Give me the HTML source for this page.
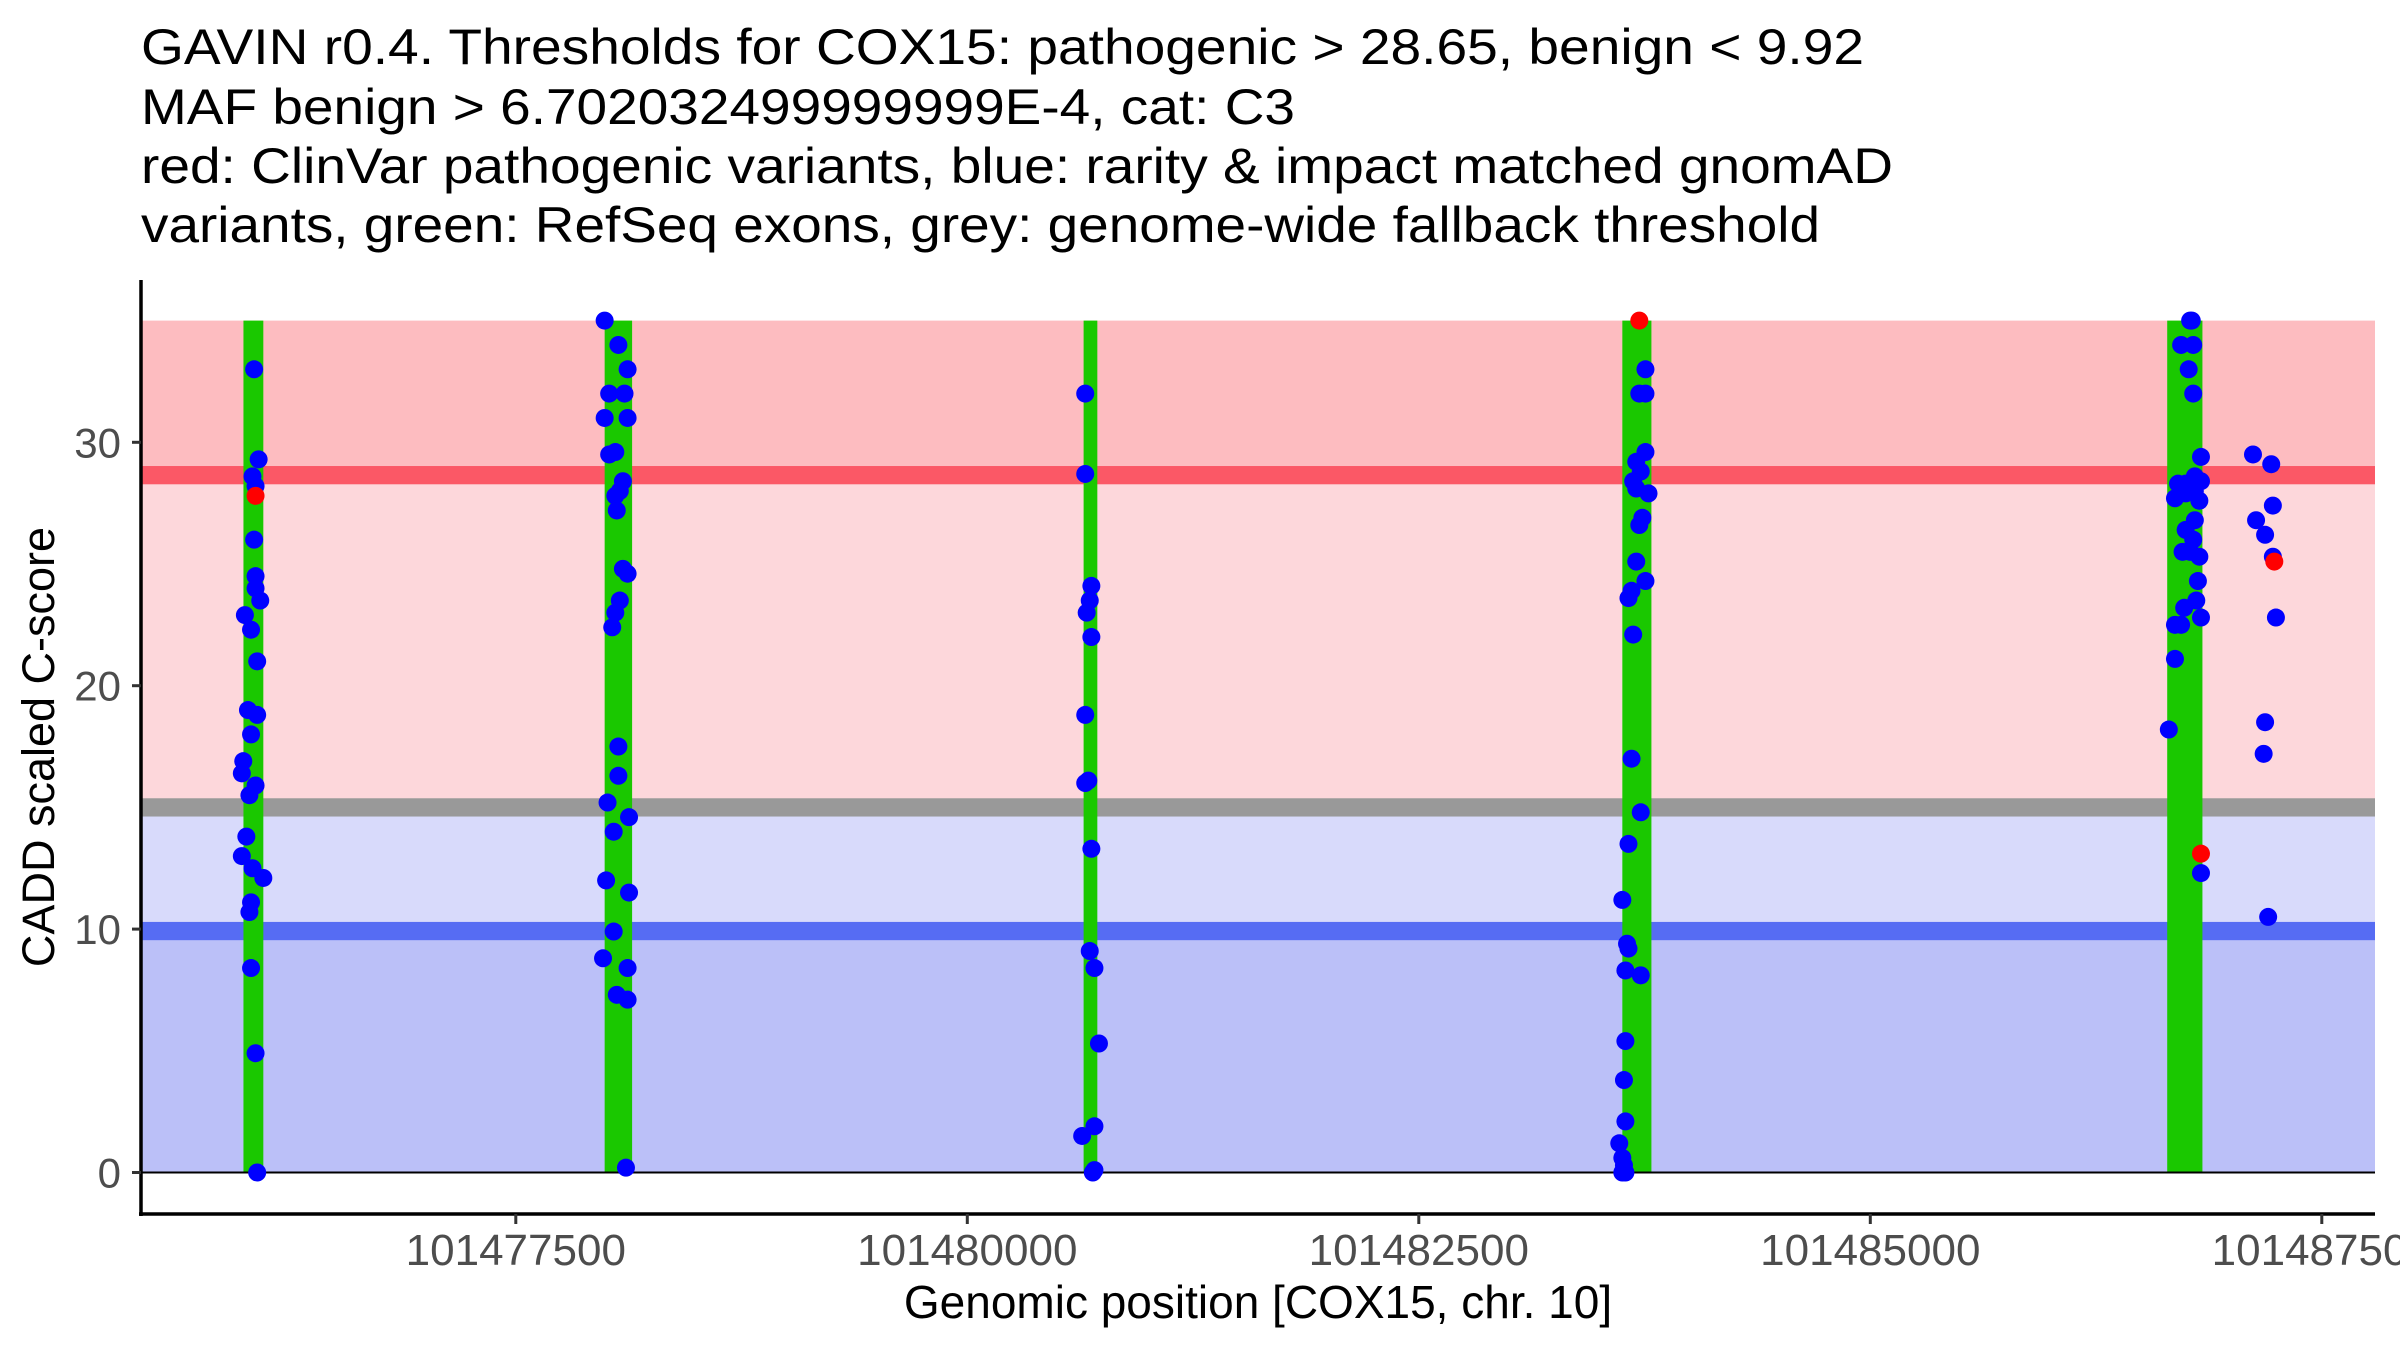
<!DOCTYPE html>
<html><head><meta charset="utf-8"><style>
html,body{margin:0;padding:0;background:#fff;}
svg{display:block;font-family:"Liberation Sans",Arial,sans-serif;}
</style></head><body>
<svg id="chart" width="2400" height="1350" viewBox="0 0 2400 1350" xmlns="http://www.w3.org/2000/svg">
<g font-size="50" fill="#000">
<text x="141" y="64" textLength="1723" lengthAdjust="spacingAndGlyphs">GAVIN r0.4. Thresholds for COX15: pathogenic &gt; 28.65, benign &lt; 9.92</text>
<text x="141" y="124" textLength="1154" lengthAdjust="spacingAndGlyphs">MAF benign &gt; 6.702032499999999E-4, cat: C3</text>
<text x="141" y="183" textLength="1752" lengthAdjust="spacingAndGlyphs">red: ClinVar pathogenic variants, blue: rarity &amp; impact matched gnomAD</text>
<text x="141" y="242" textLength="1679" lengthAdjust="spacingAndGlyphs">variants, green: RefSeq exons, grey: genome-wide fallback threshold</text>
</g>
<g id="bands"></g>
<g id="exons"></g>
<g id="points"></g>
<g id="axes"></g>
<text x="1258" y="1318" font-size="46" text-anchor="middle">Genomic position [COX15, chr. 10]</text>
<text transform="translate(54,747) rotate(-90)" font-size="45" text-anchor="middle">CADD scaled C-score</text>
</svg>
<script>
const yTicks = [0, 10, 20, 30];
const xTicks = [101477500, 101480000, 101482500, 101485000, 101487500];
const pathogenicThreshold = 28.65;
const benignThreshold = 9.92;
const fallbackThreshold = 15.0;
const yMax = 35;
const exonStarts = [101475992, 101477992, 101480644, 101483627, 101486644];
const exonEnds   = [101476102, 101478144, 101480720, 101483788, 101486839];
const bluePos = [
101476051,101476076,101476042,101476059,101476051,101476059,101476059,101476085,101476000,101476034,101476068,101476017,101476068,101476034,101476059,101475991,101475983,101476025,101476008,101475983,101476042,101476102,101476034,101476025,101476034,101476059,101476068,
101477992,101478068,101478119,101478017,101478102,101477992,101478119,101478017,101478051,101478093,101478076,101478051,101478059,101478093,101478119,101478076,101478051,101478034,101478068,101478068,101478008,101478127,101478042,101478000,101478127,101478042,101477983,101478119,101478059,101478119,101478110,
101480653,101480653,101480687,101480678,101480661,101480687,101480653,101480653,101480670,101480687,101480678,101480704,101480729,101480636,101480704,101480704,101480695,
101483755,101483721,101483755,101483755,101483704,101483729,101483687,101483704,101483772,101483738,101483721,101483704,101483755,101483678,101483661,101483687,101483678,101483729,101483661,101483627,101483653,101483661,101483729,101483644,101483644,101483636,101483644,101483610,101483627,101483636,101483644,101483627,
101486771,101486780,101486721,101486788,101486763,101486788,101486831,101486797,101486831,101486704,101486746,101486746,101486687,101486797,101486822,101486746,101486797,101486788,101486729,101486822,101486771,101486814,101486805,101486738,101486687,101486721,101486831,101486687,101486653,101486831,
101487119,101487220,101487229,101487136,101487186,101487229,101487246,101487186,101487178,101487203];
const blueScore = [
33,29.3,28.6,28.2,26,24.5,24,23.5,22.9,22.3,21,19,18.8,18,15.9,16.9,16.4,15.5,13.8,13,12.5,12.1,11.1,10.7,8.4,4.9,0,
35,34,33,32,32,31,31,29.5,29.6,28.4,28,27.8,27.2,24.8,24.6,23.5,23,22.4,17.5,16.3,15.2,14.6,14,12,11.5,9.9,8.8,8.4,7.3,7.1,0.2,
32,28.7,24.1,23.5,23,22,18.8,16,16.1,13.3,9.1,8.4,5.3,1.5,1.9,0.1,0,
33,32,32,29.6,29.2,28.8,28.4,28.1,27.9,26.9,26.6,25.1,24.3,23.9,23.6,22.1,17,14.8,13.5,11.2,9.4,9.2,8.1,8.3,5.4,3.8,2.1,1.2,0.6,0.3,0,0,
35,35,34,34,33,32,29.4,28.6,28.4,28.3,28.3,27.9,27.7,28,27.6,26.4,26.8,26,25.5,25.3,25.5,24.3,23.5,23.2,22.5,22.5,22.8,21.1,18.2,12.3,
29.5,29.1,27.4,26.8,26.2,25.3,22.8,18.5,17.2,10.5];
const redPos = [101476059, 101483721, 101486831, 101487237];
const redScore = [27.8, 35, 13.1, 25.1];

const NS = 'http://www.w3.org/2000/svg';
const PL = 141, PR = 2375, PB = 1214, PT = 280;
function xs(v){ return 515.8 + (v - 101477500) * (451.5 / 2500); }
function ys(v){ return 1172.5 - v * 24.34; }
function mk(tag, attrs, parent){
  const e = document.createElementNS(NS, tag);
  for (const k in attrs) e.setAttribute(k, attrs[k]);
  document.getElementById(parent).appendChild(e);
  return e;
}
function rect(parent, x, y, w, h, fill, name){
  const r = mk('rect', {x:x, y:y, width:w, height:h, fill:fill}, parent);
  
  
  return r;
}
const lw = 0.75;
rect('bands', PL, ys(yMax), PR-PL, ys(pathogenicThreshold)-ys(yMax), '#fdbcc0', 'pathogenic-band');
rect('bands', PL, ys(pathogenicThreshold), PR-PL, ys(fallbackThreshold)-ys(pathogenicThreshold), '#fdd7db', 'uncertain-high-band');
rect('bands', PL, ys(fallbackThreshold), PR-PL, ys(benignThreshold)-ys(fallbackThreshold), '#d8dafb', 'uncertain-low-band');
rect('bands', PL, ys(benignThreshold), PR-PL, ys(0)-ys(benignThreshold), '#bbc0f8', 'benign-band');
rect('bands', PL, ys(pathogenicThreshold+lw/2), PR-PL, lw*24.34, '#fb5866', 'pathogenic-threshold-line');
rect('bands', PL, ys(fallbackThreshold+lw/2), PR-PL, lw*24.34, '#999999', 'fallback-threshold-line');
rect('bands', PL, ys(benignThreshold+lw/2), PR-PL, lw*24.34, '#566cf3', 'benign-threshold-line');
for (let i = 0; i < exonStarts.length; i++) {
  rect('exons', xs(exonStarts[i]), ys(yMax), xs(exonEnds[i]) - xs(exonStarts[i]), ys(0)-ys(yMax), '#1ac800', 'exon-' + (i+1));
}
const zl = mk('line', {x1:PL, x2:PR, y1:ys(0), y2:ys(0), stroke:'#000', 'stroke-width':2}, 'exons');


for (let i = 0; i < bluePos.length; i++) {
  const c = mk('circle', {cx:xs(bluePos[i]), cy:ys(blueScore[i]), r:9, fill:'#0000ff'}, 'points');
  
  
}
for (let i = 0; i < redPos.length; i++) {
  const c = mk('circle', {cx:xs(redPos[i]), cy:ys(redScore[i]), r:9, fill:'#ff0000'}, 'points');
  
  
}
const ya = mk('line', {x1:PL, x2:PL, y1:PT, y2:PB+2, stroke:'#000', 'stroke-width':3.5}, 'axes');


const xa = mk('line', {x1:PL-2, x2:PR, y1:PB, y2:PB, stroke:'#000', 'stroke-width':3.5}, 'axes');


for (const t of yTicks) {
  const tk = mk('line', {x1:PL-9, x2:PL, y1:ys(t), y2:ys(t), stroke:'#333', 'stroke-width':3}, 'axes');
  
  
  const tl = mk('text', {x:PL-20, y:ys(t)+15, 'font-size':42, fill:'#4d4d4d', 'text-anchor':'end'}, 'axes');
  tl.textContent = t;
  
  
}
for (const t of xTicks) {
  const tk = mk('line', {x1:xs(t), x2:xs(t), y1:PB, y2:PB+10, stroke:'#333', 'stroke-width':3}, 'axes');
  
  
  const tl = mk('text', {x:xs(t), y:1265, 'font-size':44, fill:'#4d4d4d', 'text-anchor':'middle'}, 'axes');
  tl.textContent = t;
  
  
}
</script>
</body></html>
